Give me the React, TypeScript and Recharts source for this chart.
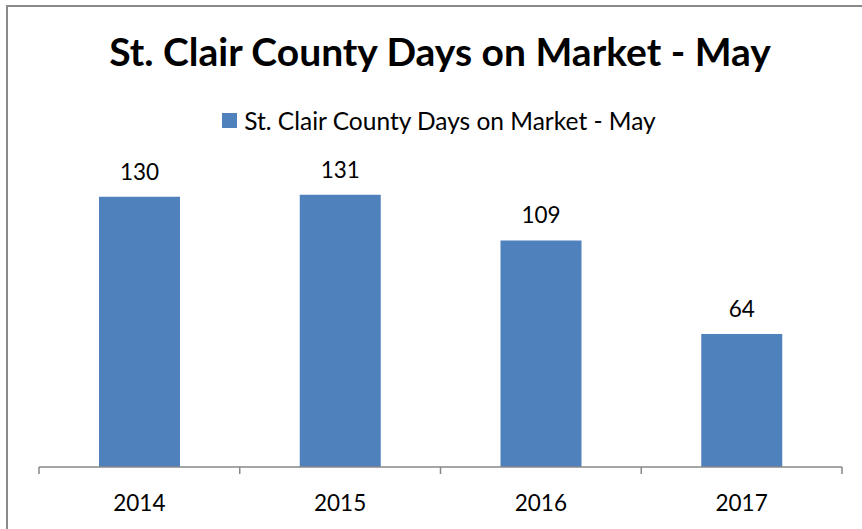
import { BarChart, Bar, XAxis, YAxis, Legend, LabelList } from 'recharts';

const years = ['2014', '2015', '2016', '2017'];
const daysOnMarket = [130, 131, 109, 64];
const seriesName = 'St. Clair County Days on Market - May';

const data = years.map((year, i) => ({ year, days: daysOnMarket[i] }));

const barColor = '#4F81BD';
const axisColor = '#878787';
const font = 'Lato, "Open Sans", sans-serif';
const TICK_SIZE = 6;
const TICK_MARGIN = 22;

function LegendBox() {
  return (
    <div style={{ display: 'flex', alignItems: 'center', justifyContent: 'center', fontFamily: font, fontSize: 24.5, color: '#000' }}>
      <span style={{ display: 'inline-block', width: 15, height: 15, background: barColor, marginRight: 7 }} />
      <span>{seriesName}</span>
    </div>
  );
}

// Excel-style category axis: tick marks sit between categories, not under them
function YearTick(props: any) {
  const { x, y, payload, index, visibleTicksCount } = props;
  const half = payload.offset || 0;
  const axisY = y - TICK_MARGIN - TICK_SIZE;
  return (
    <g>
      <line x1={x - half} x2={x - half} y1={axisY} y2={axisY + 7} stroke={axisColor} strokeWidth={1.5} />
      {index === visibleTicksCount - 1 && (
        <line x1={x + half} x2={x + half} y1={axisY} y2={axisY + 7} stroke={axisColor} strokeWidth={1.5} />
      )}
      <text x={x} y={y} dy="0.71em" textAnchor="middle" fontSize={22.5} fill="#000" fontFamily={font}>
        {payload.value}
      </text>
    </g>
  );
}

export default function App() {
  return (
    <div style={{ position: 'absolute', left: 0, top: 0, width: 862, height: 529, background: '#fff', overflow: 'hidden' }}>
      <div style={{ position: 'absolute', left: 6, top: 5, right: -10, bottom: -10, borderTop: '2px solid #898989', borderLeft: '2px solid #898989' }} />
      <div style={{ position: 'absolute', left: 0, width: 880, top: 27, textAlign: 'center', fontFamily: font, fontWeight: 700, fontSize: 39, lineHeight: '48px', color: '#000' }}>
        {seriesName}
      </div>
      <BarChart width={862} height={529} data={data} margin={{ top: 176, right: 20, bottom: 12, left: 39 }}>
        <XAxis dataKey="year" height={50} axisLine={{ stroke: axisColor, strokeWidth: 1.5 }} tickLine={false} tickSize={TICK_SIZE} tickMargin={TICK_MARGIN} tick={<YearTick />} />
        <YAxis hide domain={[0, 140]} />
        <Legend verticalAlign="middle" align="center" wrapperStyle={{ top: 106, left: 8, width: 862 }} content={() => <LegendBox />} />
        <Bar dataKey="days" name={seriesName} fill={barColor} barSize={81} isAnimationActive={false}>
          <LabelList dataKey="days" position="top" offset={17} style={{ fontSize: 22.5, fill: '#000', fontFamily: font }} />
        </Bar>
      </BarChart>
    </div>
  );
}
